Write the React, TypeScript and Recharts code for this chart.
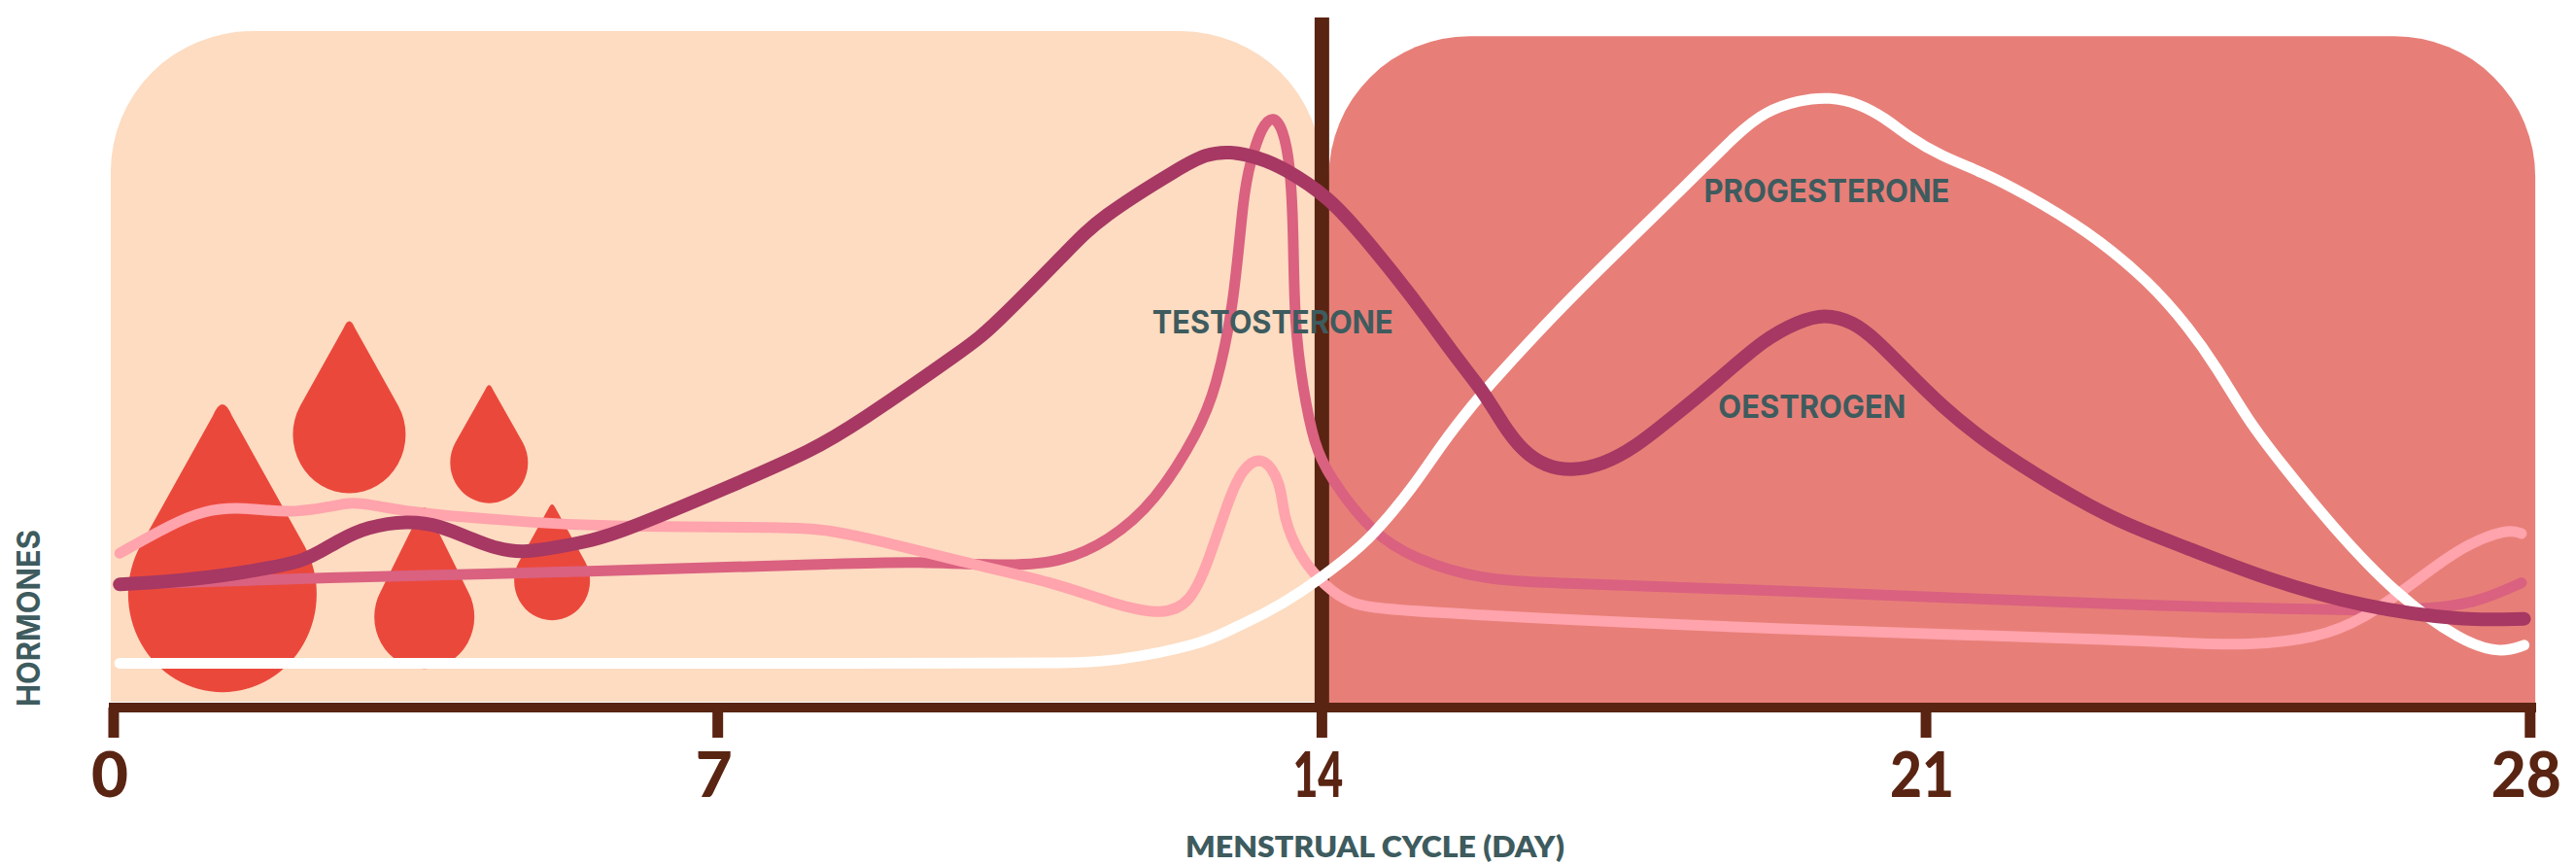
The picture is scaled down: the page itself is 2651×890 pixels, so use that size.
import React from 'react';
import { ComposedChart, Line, XAxis, YAxis, ReferenceArea, ReferenceLine, ReferenceDot, Label } from 'recharts';

const oestrogenDays = [0.07,0.68,1.24,1.8,2.17,2.36,2.62,2.93,3.41,3.78,4.17,4.43,4.73,5.18,5.55,5.89,7.16,8.11,8.59,9.91,10.17,11.07,11.41,12.39,12.65,12.93,13.27,13.55,14.08,14.45,15.01,15.57,15.88,16.1,16.33,16.59,16.89,17.26,17.64,18.02,18.58,19.14,19.52,19.82,20.16,20.42,20.72,21.17,21.73,22.48,23.23,23.99,24.95,26.08,27.21,27.93];
const oestrogenLevels = [75,77,80,85,89,94,102,110,114,111,102,97,94,98,102,107,135,157,172,220,231,279,298,330,337,339,335,329,311,289,253,212,192,172,156,147,144,148,159,175,199,225,235,240,235,224,208,184,160,135,113,98,78,61,53,54];

const testosteroneDays = [0.07,2.32,5.66,8.67,9.23,10.47,10.99,11.52,12.07,12.58,12.77,12.98,13.09,13.17,13.3,13.44,13.55,13.63,13.67,13.68,13.78,13.91,14.08,14.58,15.09,15.84,16.6,18.96,23.45,26.08,26.84,27.39,27.9];
const testosteroneLevels = [75,79,83,88,89,86,89,101,125,169,194,244,313,332,354,361,352,332,293,234,194,160,141,106,90,78,76,72,62,59,60,64,76];

const fourthDays = [0.07,0.68,1.05,1.42,1.8,2.09,2.48,2.74,2.93,3.45,4.05,4.8,5.66,7.92,8.29,8.85,9.8,10.92,11.58,12.17,12.48,12.68,12.92,13.08,13.32,13.53,13.55,13.74,14.03,14.33,14.73,18.96,23.45,24.06,24.72,25.52,26.08,26.65,27.2,27.73,27.9];
const fourthLevels = [94,112,120,122,120,119,122,125,124,119,116,113,110,110,108,102,89,76,63,56,64,88,127,146,154,137,116,92,74,63,59,48,41,39,38,42,54,76,98,109,106];

const progesteroneDays = [0.07,9.94,11.07,11.58,12.58,12.96,13.33,13.73,14.29,14.58,15.07,15.38,15.77,15.95,16.7,17.45,18.2,18.84,19.14,19.52,19.89,20.22,20.53,20.79,21.17,21.66,22.11,22.86,23.6,24.05,24.36,24.73,25.11,25.71,26.46,27.21,27.66,27.93];
const progesteroneLevels = [27,27,27,28,38,48,57,69,91,104,135,160,186,197,240,279,317,351,363,370,372,368,359,348,336,326,314,291,259,231,208,175,149,110,68,40,33,38];

const dropDays = [1.26, 2.73, 4.35, 3.6, 5.08];
const dropLevels = [68.7, 166, 149, 55, 77];
const dropRadii = [97, 58, 40, 51.5, 39];
const dropTips = [196, 117, 80, 113, 79];

const labelNames = ['TESTOSTERONE', 'PROGESTERONE', 'OESTROGEN'];
const labelDays = [13.43, 19.85, 19.68];
const labelLevels = [234.8, 314.6, 183];
const labelLengths = [248, 253, 193];

const xTicks = [0, 7, 14, 21, 28];
const tickWidths: Record<number, number> = { 0: 38, 7: 38, 14: 52, 21: 66, 28: 72 };

const zip = (d: number[], l: number[]) => d.map((day, i) => ({ day, level: l[i] }));

const BROWN = '#5A2412';
const TEAL = '#3E5B5E';
const PEACH = '#FDDCC1';
const SALMON = '#E77F78';
const RED = '#EB483C';

const TopRounded = (fill: string, r: number) => (p: any) => {
  const { x, y, width: w, height: h } = p;
  return <path d={`M${x},${y + h}V${y + r}A${r},${r} 0 0 1 ${x + r},${y}H${x + w - r}A${r},${r} 0 0 1 ${x + w},${y + r}V${y + h}Z`} fill={fill} />;
};

const Drop = (r: number, tip: number) => (p: any) => {
  const { cx, cy } = p;
  const tipY = cy - tip;
  const rx = r, ry = r * 1.04;
  const sx = rx * 0.87, sy = r * 0.52;
  const tw = r * 0.1;
  const e = r * 0.12;
  return (
    <path
      d={`M${cx - tw},${tipY + e}Q${cx},${tipY - e} ${cx + tw},${tipY + e}L${cx + sx},${cy - sy}A${rx},${ry} 0 1 1 ${cx - sx},${cy - sy}Z`}
      fill={RED}
    />
  );
};

const SeriesText = (name: string, len: number) => (p: any) => (
  <text x={p.cx} y={p.cy} textAnchor="middle" dominantBaseline="central" fontFamily="Inter" fontWeight={700} fontSize={32} fill={TEAL} textLength={len} lengthAdjust="spacingAndGlyphs">{name}</text>
);

const DayTick = (p: any) => (
  <text x={p.x - 4} y={p.y + 61} textAnchor="middle" fontFamily="Lato" fontWeight={900} fontSize={65} fill={BROWN} textLength={tickWidths[p.payload.value]} lengthAdjust="spacingAndGlyphs">{p.payload.value}</text>
);

const XTitle = (p: any) => {
  const v = p.viewBox;
  return <text x={v.x + v.width / 2 + 54} y={882} textAnchor="middle" fontFamily="Lato" fontWeight={800} fontSize={30} fill={TEAL} textLength={390} lengthAdjust="spacingAndGlyphs">MENSTRUAL CYCLE (DAY)</text>;
};

const YTitle = () => (
  <text transform="translate(41,727) rotate(-90)" fontFamily="Inter" fontWeight={700} fontSize={33} fill={TEAL} textLength={182} lengthAdjust="spacingAndGlyphs">HORMONES</text>
);

const lineProps = { type: 'basis' as const, dataKey: 'level', dot: false, activeDot: false, strokeLinecap: 'round' as const, strokeLinejoin: 'round' as const, isAnimationActive: false, legendType: 'none' as const };

export default function App() {
  return (
    <div style={{ position: 'absolute', left: 0, top: 0, width: 2651, height: 890 }}>
      <ComposedChart width={2651} height={890} margin={{ top: 0, right: 41, bottom: 0, left: 0 }}>
        <XAxis
          type="number"
          dataKey="day"
          domain={[-0.056, 28.07]}
          allowDataOverflow
          ticks={xTicks}
          height={162}
          tick={DayTick}
          tickSize={31}
          tickMargin={0}
          interval={0}
          axisLine={{ stroke: BROWN, strokeWidth: 10 }}
          tickLine={{ stroke: BROWN, strokeWidth: 11 }}
        >
          <Label content={XTitle} />
        </XAxis>
        <YAxis type="number" domain={[0, 431]} allowDataOverflow width={112} tick={false} tickLine={false} axisLine={false}>
          <Label content={YTitle} />
        </YAxis>

        <ReferenceArea x1={-0.034} x2={14} y1={3.5} y2={412} shape={TopRounded(PEACH, 145)} />
        <ReferenceArea x1={14.08} x2={28.06} y1={0} y2={409} shape={TopRounded(SALMON, 145)} />
        <ReferenceLine segment={[{ x: 14, y: 0 }, { x: 14, y: 420.4 }]} stroke={BROWN} strokeWidth={15} />

        {dropDays.map((d, i) => (
          <ReferenceDot key={i} x={d} y={dropLevels[i]} r={1} zIndex={150} shape={Drop(dropRadii[i], dropTips[i])} />
        ))}

        <Line {...lineProps} data={zip(testosteroneDays, testosteroneLevels)} stroke="#DA6180" strokeWidth={11} name="Testosterone" />
        <Line {...lineProps} data={zip(fourthDays, fourthLevels)} stroke="#FFA3AC" strokeWidth={11} name="Unlabelled" />
        <Line {...lineProps} data={zip(progesteroneDays, progesteroneLevels)} stroke="#FFFFFF" strokeWidth={11} name="Progesterone" />
        <Line {...lineProps} data={zip(oestrogenDays, oestrogenLevels)} stroke="#A63863" strokeWidth={14} name="Oestrogen" />

        {labelNames.map((n, i) => (
          <ReferenceDot key={n} x={labelDays[i]} y={labelLevels[i]} r={1} shape={SeriesText(n, labelLengths[i])} />
        ))}
      </ComposedChart>
    </div>
  );
}
